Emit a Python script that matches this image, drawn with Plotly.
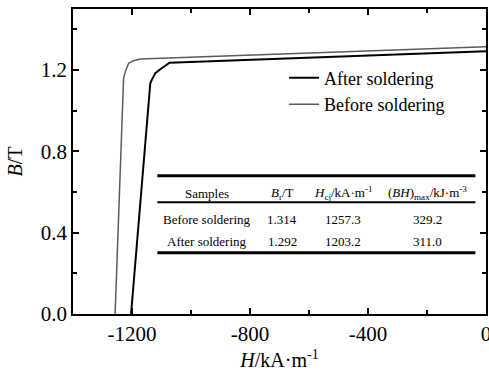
import plotly.graph_objects as go

# Demagnetization curves
H_after = [-1203.2, -1138, -1132, -1121, -1104, -1087, -1072.6, 0]
B_after = [0, 1.135, 1.154, 1.184, 1.204, 1.220, 1.236, 1.292]
H_before = [-1257.3, -1228.5, -1222.7, -1211.5, -1194.6, -1171.9, 0]
B_before = [0, 1.159, 1.192, 1.233, 1.246, 1.254, 1.314]

series_names = ["After soldering", "Before soldering"]

# Inset table
table_header = ["Samples", "<i>B</i><sub>r</sub>/T", "<i>H</i><sub>cj</sub>/kA·m<sup>-1</sup>",
                "(<i>BH</i>)<sub>max</sub>/kJ·m<sup>-3</sup>"]
table_rows = [["Before soldering", "1.314", "1257.3", "329.2"],
              ["After soldering", "1.292", "1203.2", "311.0"]]

x_ticks = [-1200, -800, -400, 0]
y_ticks = [0.0, 0.4, 0.8, 1.2]

FONT = "Liberation Serif"

fig = go.Figure()
fig.add_trace(go.Scatter(x=H_after, y=B_after, mode="lines", name=series_names[0],
                         line=dict(color="black", width=2)))
fig.add_trace(go.Scatter(x=H_before, y=B_before, mode="lines", name=series_names[1],
                         line=dict(color="#5a5a5a", width=1.5)))

# table geometry in data coordinates
col_x = [-946, -691, -484, -200]
row_y = [0.595, 0.467, 0.356]
line_y = [0.680, 0.549, 0.301]
line_w = [3, 2, 3]
tx0, tx1 = -1114, -36

for y, w in zip(line_y, line_w):
    fig.add_shape(type="line", x0=tx0, x1=tx1, y0=y, y1=y, xref="x", yref="y",
                  line=dict(color="black", width=w))

for cx, txt in zip(col_x, table_header):
    fig.add_annotation(x=cx, y=row_y[0], text=txt, showarrow=False, xref="x", yref="y",
                       font=dict(family=FONT, size=13, color="black"))
for ry, row in zip(row_y[1:], table_rows):
    for cx, txt in zip(col_x, row):
        fig.add_annotation(x=cx, y=ry, text=txt, showarrow=False, xref="x", yref="y",
                           font=dict(family=FONT, size=13, color="black"))

axis_common = dict(showline=True, linecolor="black", linewidth=1.5, mirror="ticks",
                   ticks="inside", ticklen=6, tickwidth=1.5, tickcolor="black",
                   showgrid=False, zeroline=False, automargin=False,
                   ticklabeloverflow="allow",
                   tickfont=dict(family=FONT, size=21, color="black"))

fig.update_xaxes(range=[-1400, 0], tickvals=x_ticks, ticktext=[str(v) for v in x_ticks],
                 minor=dict(tickvals=[-1000, -600, -200], ticklen=4, tickwidth=1.5,
                            tickcolor="black", ticks="inside"),
                 title=dict(text="<i>H</i>/kA·m<sup>-1</sup>", standoff=8,
                            font=dict(family=FONT, size=20, color="black")),
                 **axis_common)
fig.update_yaxes(range=[0, 1.5], tickvals=y_ticks, ticktext=[f"{v:.1f}" for v in y_ticks],
                 minor=dict(tickvals=[0.2, 0.6, 1.0, 1.4], ticklen=4, tickwidth=1.5,
                            tickcolor="black", ticks="inside"),
                 title=dict(text="<i>B</i>/T", standoff=13,
                            font=dict(family=FONT, size=20, color="black")),
                 **axis_common)

fig.update_layout(
    width=489, height=374,
    margin=dict(l=73, r=3, t=9, b=60),
    plot_bgcolor="white", paper_bgcolor="white",
    showlegend=True,
    legend=dict(x=0.511, y=0.834, xanchor="left", yanchor="top",
                bgcolor="rgba(0,0,0,0)", tracegroupgap=0, itemwidth=30,
                font=dict(family=FONT, size=18, color="black")),
)

# remove the default page margin so the figure fills the window exactly
fig.write_html("out.html", config={"displayModeBar": False},
               post_script="document.body.style.margin='0';document.body.style.overflow='hidden';")
